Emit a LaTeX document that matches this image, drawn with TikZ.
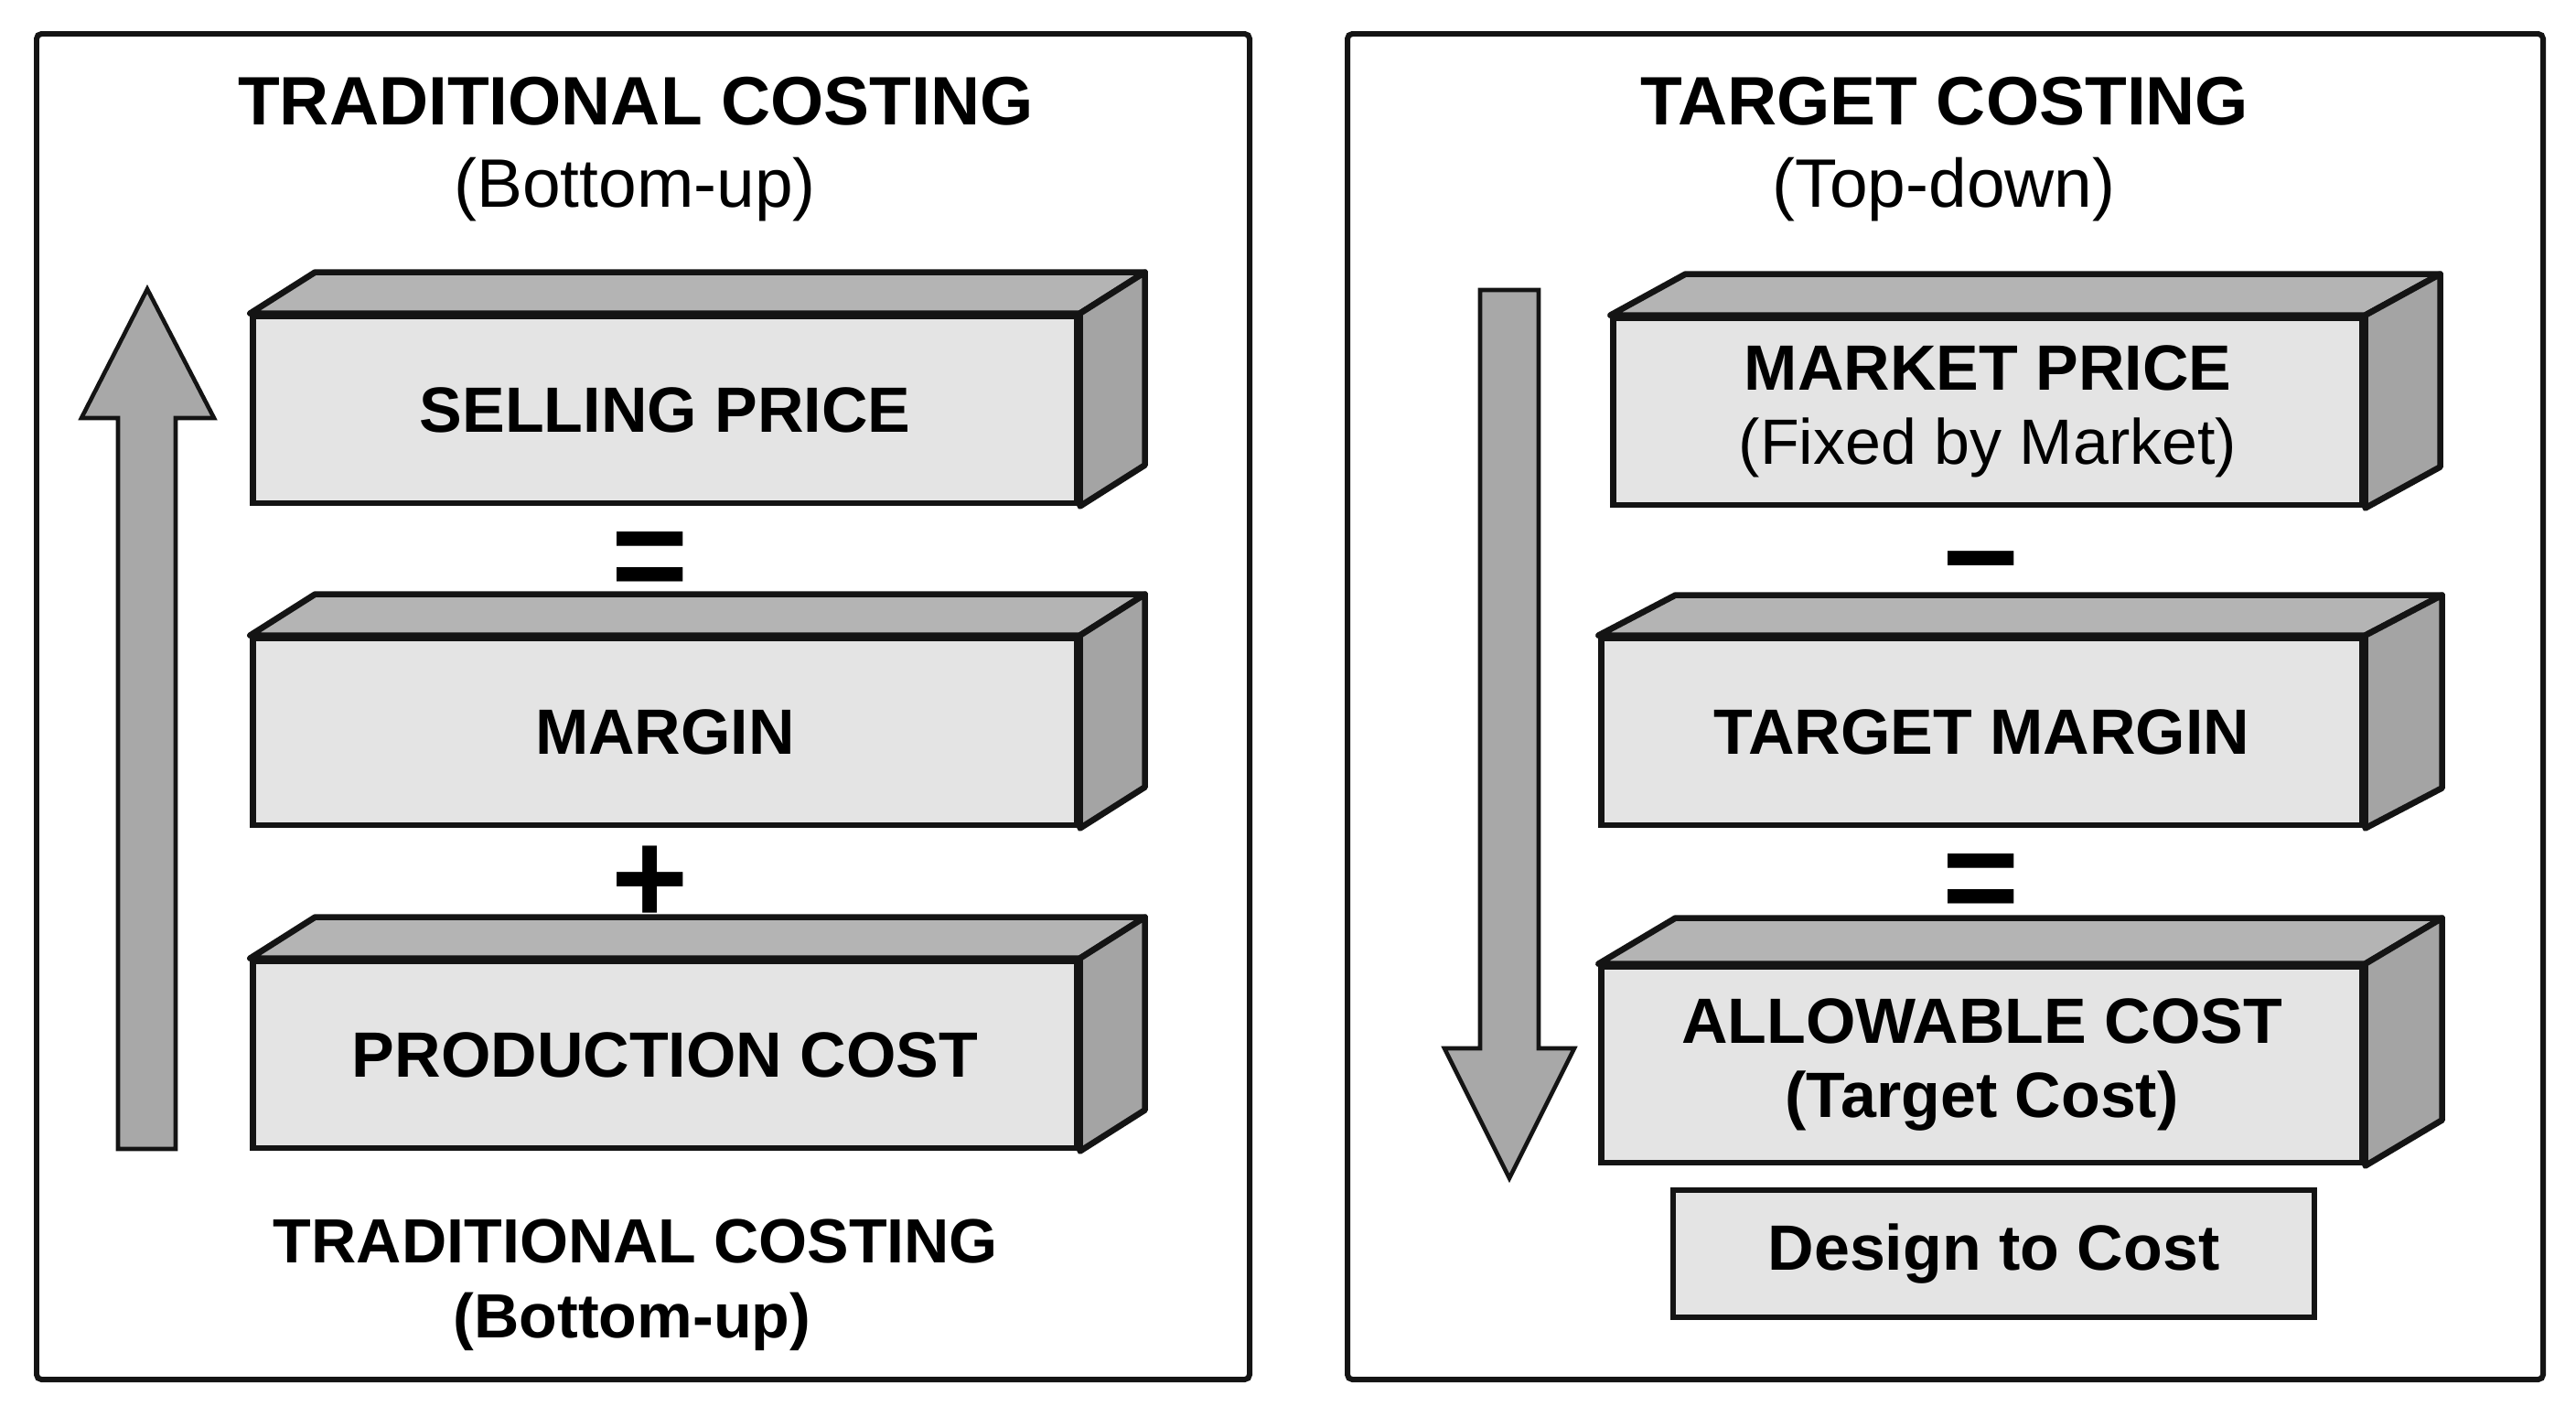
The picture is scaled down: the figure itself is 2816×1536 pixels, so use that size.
\documentclass[tikz,border=0pt]{standalone}
\usepackage{fontspec}
\setmainfont{Liberation Sans}
\usepackage{xcolor}
\usepackage{tikz}
\usetikzlibrary{positioning,calc}
\definecolor{clrFront}{RGB}{228,228,228}
\definecolor{clrTop}{RGB}{180,180,180}
\definecolor{clrSide}{RGB}{164,164,164}
\definecolor{clrArrow}{RGB}{168,168,168}
\definecolor{clrLine}{RGB}{20,20,20}
\tikzset{
  panel/.style={draw=clrLine,line width=1.7pt,rounded corners=1.5pt},
  front/.style={rectangle,draw=clrLine,fill=clrFront,line width=1.9pt,inner sep=0pt,
    font=\fontsize{19.9}{23}\selectfont\bfseries,align=center},
  topface/.style={draw=clrLine,fill=clrTop,line width=1.9pt,line join=round},
  sideface/.style={draw=clrLine,fill=clrSide,line width=1.9pt,line join=round},
  flatbox/.style={rectangle,draw=clrLine,fill=clrFront,line width=1.6pt,inner sep=0pt,
    font=\fontsize{19.9}{23}\selectfont\bfseries},
  heading/.style={font=\fontsize{21.3}{25.6}\selectfont\bfseries,anchor=base},
  subheading/.style={font=\fontsize{21.3}{25.6}\selectfont,anchor=base},
  footer/.style={font=\fontsize{19.4}{23.3}\selectfont\bfseries,anchor=base},
  op/.style={font=\fontsize{41}{41}\selectfont\bfseries,inner sep=0pt},
  bigarrow/.style={draw=clrLine,fill=clrArrow,line width=1.3pt,line join=miter}
}
% top and right faces of a slab, drawn from its front node
\newcommand{\slab}[3]{%
  \draw[topface] (#1.north west) -- ++(#2,#3) -- ($(#1.north east)+(#2,#3)$)
    -- (#1.north east) -- cycle;
  \draw[sideface] (#1.north east) -- ($(#1.north east)+(#2,#3)$)
    -- ($(#1.south east)+(#2,#3)$) -- (#1.south east) -- cycle;
}

\begin{document}
\begin{tikzpicture}[x=0.01cm,y=-0.01cm]
  \useasboundingbox[fill=white] (0,0) rectangle (2816,1536);

  % traditional costing
  \draw[panel] (40,37) rectangle (1366,1508);
  \node[heading] (tradtitle) at (695,136) {TRADITIONAL COSTING};
  \node[subheading] (tradsub) at (694,226) {(Bottom-up)};

  \draw[bigarrow] (129,1256) -- (129,457) -- (89,457) -- (161,316)
    -- (234,457) -- (192,457) -- (192,1256) -- cycle;

  \node[front,minimum width=9cm,minimum height=2.04cm]
    (selling) at (727,448) {SELLING PRICE};
  \slab{selling}{71}{-45}

  \node[op] (eqleft) at (711,619) {=};

  \node[front,minimum width=9cm,minimum height=2.04cm]
    (margin) at (727,800) {MARGIN};
  \slab{margin}{71}{-45}

  \node[op] (plus) at (711,967) {+};

  \node[front,minimum width=9cm,minimum height=2.04cm]
    (production) at (727,1153) {PRODUCTION COST};
  \slab{production}{71}{-45}

  \node[footer] (tradfoot) at (695,1380) {TRADITIONAL COSTING};
  \node[footer] (tradfootsub) at (691,1462) {(Bottom-up)};

  % target costing
  \draw[panel] (1473,37) rectangle (2780,1508);
  \node[heading] (targettitle) at (2126,136) {TARGET COSTING};
  \node[subheading] (targetsub) at (2125,226) {(Top-down)};

  \draw[bigarrow] (1618,317) -- (1618,1146) -- (1579,1146) -- (1650,1288)
    -- (1721,1146) -- (1682,1146) -- (1682,317) -- cycle;

  \node[front,minimum width=8.18cm,minimum height=2.04cm]
    (market) at (2173,450)
    {MARKET PRICE\\{\mdseries (Fixed by Market)}};
  \slab{market}{82}{-45}

  \node[op] (minus) at (2166,631) {−};

  \node[front,minimum width=8.31cm,minimum height=2.04cm]
    (targetmargin) at (2166.5,800) {TARGET MARGIN};
  \slab{targetmargin}{84}{-44}

  \node[op] (eqright) at (2166,971) {=};

  \node[front,minimum width=8.31cm,minimum height=2.14cm]
    (allowable) at (2166.5,1164) {ALLOWABLE COST\\(Target Cost)};
  \slab{allowable}{84}{-50}

  \node[flatbox,minimum width=7.01cm,minimum height=1.39cm]
    (design) at (2179.5,1370.5) {Design to Cost};
\end{tikzpicture}
\end{document}
